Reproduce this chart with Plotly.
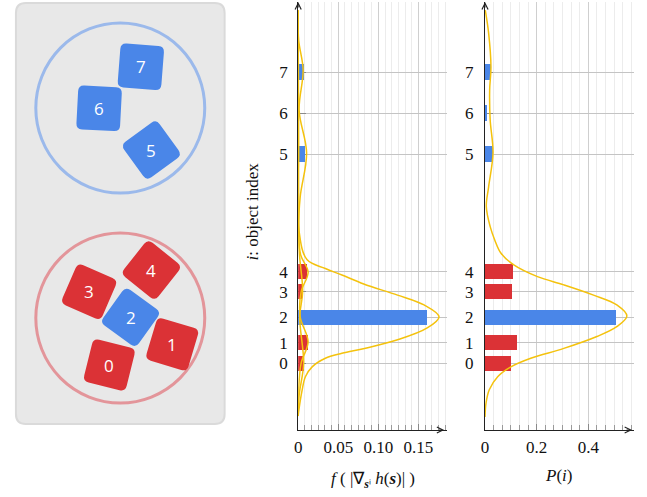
import math
import plotly.graph_objects as go

# ---------------- data ----------------
labels = ["0", "1", "2", "3", "4", "5", "6", "7"]
positions = [1.63, 2.13, 2.75, 3.37, 3.86, 6.73, 7.73, 8.73]
groups = ["red", "red", "blue", "red", "red", "blue", "blue", "blue"]
f_values = [0.007, 0.0124, 0.161, 0.005, 0.011, 0.009, 0.0006, 0.0074]
p_values = [0.101, 0.123, 0.507, 0.105, 0.109, 0.030, 0.009, 0.024]

f_tick_vals = [0, 0.05, 0.10, 0.15]
f_tick_text = ["0", "0.05", "0.10", "0.15"]
p_tick_vals = [0, 0.2, 0.4]
p_tick_text = ["0", "0.2", "0.4"]

# yellow density curves
f_main_x = [0, 0.0009, 0.005, 0.009, 0.0174, 0.0339, 0.0546, 0.0827, 0.124, 0.161, 0.1757,
            0.157, 0.124, 0.0818, 0.0546, 0.0339, 0.0112, 0.0009, 0.0004, 0]
f_main_y = [0.34, 0.49, 0.98, 1.30, 1.54, 1.75, 1.87, 1.99, 2.20, 2.49, 2.76,
            3.05, 3.29, 3.56, 3.78, 3.94, 4.15, 4.88, 6.83, 10.24]
f_small1_x = [0, 0.0006, 0.0062, 0.0012, 0.0105, 0.0025, 0.0006, 0.0031, 0.0124, 0.0037,
              0.0025, 0.0124, 0.0037, 0.0006, 0]
f_small1_y = [10.24, 9.51, 8.78, 7.80, 6.76, 5.68, 4.88, 4.27, 3.85, 3.37,
              2.76, 2.15, 1.63, 0.98, 0.34]
f_small2_x = [0, 0.0006, 0.0012, 0.0056, 0.0019, 0.0068, 0.0012, 0]
f_small2_y = [10.24, 5.61, 4.39, 3.37, 2.76, 1.63, 0.85, 0.34]
p_curve_x = [0, 0.0038, 0.0165, 0.049, 0.100, 0.177, 0.305, 0.433, 0.510, 0.549,
             0.510, 0.420, 0.305, 0.203, 0.113, 0.062, 0.038, 0.020, 0.005, 0.014,
             0.031, 0.020, 0.018, 0.023, 0.014, 0.001]
p_curve_y = [0.32, 0.65, 0.98, 1.30, 1.54, 1.75, 1.99, 2.28, 2.52, 2.78,
             3.05, 3.29, 3.54, 3.74, 4.02, 4.31, 4.63, 4.96, 5.45, 5.93,
             6.76, 7.56, 8.29, 8.86, 9.68, 10.24]

# ---------------- styles / layout ----------------
W, H = 647, 497
RED = "#db3236"
BLUE = "#4a86e8"
YELLOW = "#f4c20d"
SERIF = "Liberation Serif"
SANS = "Open Sans"
bar_colors = [RED if g == "red" else BLUE for g in groups]

def px(x):
    return x / W

def py(y):
    return 1 - y / H

# plot area geometry (pixels)
AX_BOTTOM, AX_TOP = 430, 2
MID_L, MID_R = 296, 446
RIG_L, RIG_R = 484, 634
Y_UNIT = 41.0
y_top = (AX_BOTTOM - AX_TOP) / Y_UNIT
f_xmax = (MID_R - MID_L) * 0.05 / 40.33
p_xmax = (RIG_R - RIG_L) * 0.2 / 52.0

fig = go.Figure()

# bars
fig.add_trace(go.Bar(x=f_values, y=positions, orientation="h", width=0.37,
                     marker=dict(color=bar_colors, line=dict(width=0)),
                     xaxis="x", yaxis="y", hoverinfo="skip"))
fig.add_trace(go.Bar(x=p_values, y=positions, orientation="h", width=0.37,
                     marker=dict(color=bar_colors, line=dict(width=0)),
                     xaxis="x2", yaxis="y2", hoverinfo="skip"))

# curves
curve_line = dict(color=YELLOW, width=1.5, shape="spline", smoothing=1.0)
for cx, cy in [(f_small2_x, f_small2_y), (f_small1_x, f_small1_y), (f_main_x, f_main_y)]:
    fig.add_trace(go.Scatter(x=cx, y=cy, mode="lines", line=curve_line,
                             xaxis="x", yaxis="y", hoverinfo="skip"))
fig.add_trace(go.Scatter(x=p_curve_x, y=p_curve_y, mode="lines", line=curve_line,
                         xaxis="x2", yaxis="y2", hoverinfo="skip"))

tickfont = dict(family=SERIF, size=17, color="#111")

def xaxis_cfg(domain, rng, vals, text, minor_dtick, anchor):
    return dict(domain=domain, range=rng, anchor=anchor, tickmode="array", tickvals=vals,
                ticktext=text, showgrid=True, gridcolor="#cfcfcf", gridwidth=1,
                ticks="inside", ticklen=6, tickcolor="#8a8a8a",
                showline=True, linecolor="#222", linewidth=1.2,
                zeroline=False, tickfont=tickfont, ticklabelstandoff=1, fixedrange=True,
                layer="below traces",
                minor=dict(dtick=minor_dtick, tick0=0, ticks="inside", ticklen=5,
                           tickcolor="#9a9a9a", showgrid=True, gridcolor="#ececec",
                           gridwidth=1))

def yaxis_cfg(anchor, standoff):
    return dict(domain=[py(AX_BOTTOM), py(AX_TOP)], range=[0, y_top], anchor=anchor,
                tickmode="array", tickvals=positions, ticktext=labels,
                showgrid=True, gridcolor="#c4c4c4", gridwidth=1,
                ticks="inside", ticklen=8, tickcolor="#8a8a8a",
                showline=True, linecolor="#222", linewidth=1.2, zeroline=False,
                tickfont=tickfont, ticklabelstandoff=standoff, fixedrange=True,
                layer="below traces")

fig.update_layout(
    width=W, height=H, autosize=False,
    margin=dict(l=0, r=0, t=0, b=0),
    paper_bgcolor="white", plot_bgcolor="rgba(0,0,0,0)",
    showlegend=False, bargap=0,
    xaxis=xaxis_cfg([px(MID_L), px(MID_R)], [0, f_xmax], f_tick_vals, f_tick_text, 0.05 / 6, "y"),
    yaxis=yaxis_cfg("x", 6),
    xaxis2=xaxis_cfg([px(RIG_L), px(RIG_R)], [0, p_xmax], p_tick_vals, p_tick_text, 0.2 / 6, "y2"),
    yaxis2=yaxis_cfg("x2", 7),
)

annotations = []
# arrow heads on axes
for xr, yr, xtip in [("x", "y", (443 - MID_L) * 0.05 / 40.33), ("x2", "y2", (632 - RIG_L) * 0.2 / 52.0)]:
    annotations.append(dict(x=xtip, y=0, xref=xr, yref=yr, ax=-7, ay=0, showarrow=True,
                            arrowhead=5, arrowsize=1.2, arrowwidth=1, arrowcolor="#222", text=""))
    annotations.append(dict(x=0, y=y_top, xref=xr, yref=yr, ax=0, ay=7, showarrow=True,
                            arrowhead=5, arrowsize=1.2, arrowwidth=1, arrowcolor="#222", text=""))

def label(xp, yp, text, font, angle=0):
    return dict(x=px(xp), y=py(yp), xref="paper", yref="paper", showarrow=False,
                xanchor="center", yanchor="middle", text=text, textangle=angle, font=font)

title_font = dict(family=SERIF, size=17, color="#111")
annotations.append(label(250, 211, "<i>i</i>: object index", title_font, -90))
annotations.append(label(371, 480, "<i>f</i> ( |∇<sub><b><i>s</i></b>\u2071</sub> <i>h</i>(<b><i>s</i></b>)| )", title_font))
annotations.append(label(558, 475, "<i>P</i>(<i>i</i>)", title_font))

# ---------------- left illustration ----------------
shapes = []

def rounded_rect_path(x0, y0, x1, y1, r):
    pts = [
        ("M", [(x0 + r, y0)]), ("L", [(x1 - r, y0)]), ("Q", [(x1, y0), (x1, y0 + r)]),
        ("L", [(x1, y1 - r)]), ("Q", [(x1, y1), (x1 - r, y1)]),
        ("L", [(x0 + r, y1)]), ("Q", [(x0, y1), (x0, y1 - r)]),
        ("L", [(x0, y0 + r)]), ("Q", [(x0, y0), (x0 + r, y0)]),
    ]
    s = ""
    for cmd, ps in pts:
        s += cmd + " ".join(f"{px(a):.5f},{py(b):.5f}" for a, b in ps) + " "
    return s + "Z"

def rotated_square_path(cx, cy, side, r, ang):
    h = side / 2
    local = [
        ("M", [(-h + r, -h)]), ("L", [(h - r, -h)]), ("Q", [(h, -h), (h, -h + r)]),
        ("L", [(h, h - r)]), ("Q", [(h, h), (h - r, h)]),
        ("L", [(-h + r, h)]), ("Q", [(-h, h), (-h, h - r)]),
        ("L", [(-h, -h + r)]), ("Q", [(-h, -h), (-h + r, -h)]),
    ]
    c, s_ = math.cos(math.radians(ang)), math.sin(math.radians(ang))
    out = ""
    for cmd, ps in local:
        coords = []
        for a, b in ps:
            xx = cx + a * c - b * s_
            yy = cy + a * s_ + b * c
            coords.append(f"{px(xx):.5f},{py(yy):.5f}")
        out += cmd + " ".join(coords) + " "
    return out + "Z"

# panel
shapes.append(dict(type="path", xref="paper", yref="paper",
                   path=rounded_rect_path(12, 3, 222, 424, 10),
                   fillcolor="#e8e8e8", line=dict(color="#dadada", width=2), layer="below"))
# cluster circles
cluster_cx = [117, 117]
cluster_cy = [108, 318]
cluster_r = 85
cluster_col = ["#9bb9eb", "#e3959a"]
for cx, cy, col in zip(cluster_cx, cluster_cy, cluster_col):
    shapes.append(dict(type="circle", xref="paper", yref="paper",
                       x0=px(cx - cluster_r), x1=px(cx + cluster_r),
                       y0=py(cy + cluster_r), y1=py(cy - cluster_r),
                       line=dict(color=col, width=3), fillcolor="rgba(0,0,0,0)", layer="below"))

obj_cx = [106, 169.3, 127.3, 85.7, 148.3, 148.3, 95.7, 137.7]
obj_cy = [365, 344.3, 317.3, 291.7, 270, 150, 108.3, 66.7]
obj_ang = [14, 16.7, 35.8, 23.6, 38.5, 54, 3, 4.5]
draw_order = [0, 1, 3, 4, 2, 5, 6, 7]
for i in draw_order:
    shapes.append(dict(type="path", xref="paper", yref="paper",
                       path=rotated_square_path(obj_cx[i], obj_cy[i], 44, 6, obj_ang[i]),
                       fillcolor=bar_colors[i], line=dict(width=0), layer="below"))
num_font = dict(family=SANS, size=17, color="white")
for i in range(len(labels)):
    annotations.append(label(obj_cx[i], obj_cy[i], labels[i], num_font))

fig.update_layout(shapes=shapes, annotations=annotations)
fig.write_html("out.html", config={"displayModeBar": False},
               post_script="document.body.style.margin='0';document.body.style.overflow='hidden';")
